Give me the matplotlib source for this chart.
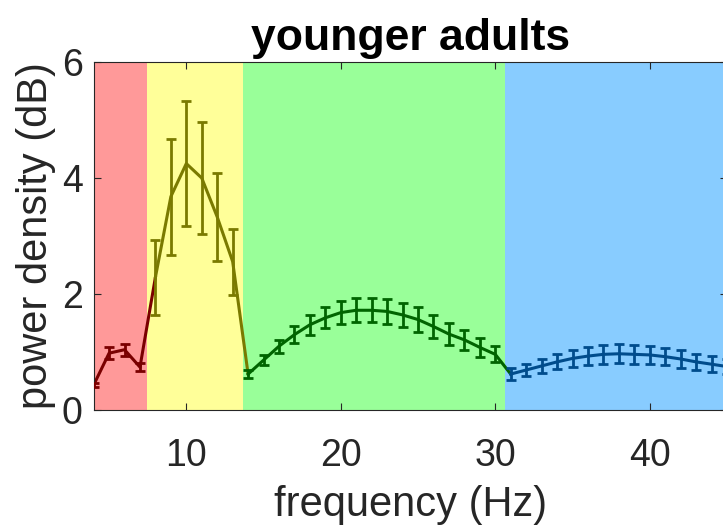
import numpy as np
import matplotlib
matplotlib.use('Agg')
import matplotlib.pyplot as plt

plt.rcParams['font.family'] = ['Liberation Sans', 'DejaVu Sans']

# -----------------------------------------------------------------------------
# values

band_names = ['delta', 'theta', 'beta', 'gamma']
band_edges = [4, 7.45, 13.65, 30.6, 45]
band_fill = ['#ff9999', '#ffff99', '#99ff99', '#88ccff']
band_line = ['#7a0000', '#7a7a00', '#006400', '#004c8c']

freq_delta = [4, 5, 6, 7]
pow_delta = [0.43, 0.98, 1.04, 0.74]
err_delta = [0.04, 0.10, 0.10, 0.07]

freq_theta = [8, 9, 10, 11, 12, 13]
pow_theta = [2.29, 3.68, 4.25, 4.00, 3.33, 2.56]
err_theta = [0.65, 1.00, 1.08, 0.97, 0.76, 0.57]

freq_beta = list(range(14, 31))
pow_beta = [0.62, 0.86, 1.10, 1.30, 1.47, 1.59, 1.68, 1.72, 1.72,
            1.70, 1.64, 1.56, 1.44, 1.31, 1.21, 1.08, 0.96]
err_beta = [0.07, 0.09, 0.11, 0.15, 0.17, 0.18, 0.20, 0.21, 0.21,
            0.21, 0.21, 0.21, 0.20, 0.19, 0.17, 0.17, 0.14]

freq_gamma = list(range(31, 46))
pow_gamma = [0.62, 0.69, 0.76, 0.83, 0.89, 0.93, 0.96, 0.97,
             0.96, 0.95, 0.92, 0.88, 0.83, 0.79, 0.75]
err_gamma = [0.10, 0.11, 0.12, 0.13, 0.14, 0.15, 0.16, 0.16,
             0.16, 0.16, 0.15, 0.15, 0.14, 0.14, 0.13]

freqs = [freq_delta, freq_theta, freq_beta, freq_gamma]
pows = [pow_delta, pow_theta, pow_beta, pow_gamma]
errs = [err_delta, err_theta, err_beta, err_gamma]

# -----------------------------------------------------------------------------

fig = plt.figure(figsize=(7.23, 5.32), dpi=100)
ax = fig.add_axes([0.1295, 0.2293, 0.876, 0.654])

for i in range(len(band_names)):
    ax.axvspan(band_edges[i], band_edges[i + 1], color=band_fill[i],
               lw=0, zorder=0)

for i in range(len(band_names)):
    f = list(freqs[i])
    p = list(pows[i])
    # connect to the first point of the next band
    if i + 1 < len(band_names):
        f_line = f + [freqs[i + 1][0]]
        p_line = p + [pows[i + 1][0]]
    else:
        f_line, p_line = f, p
    ax.plot(f_line, p_line, color=band_line[i], lw=2.2, zorder=2)
    ax.errorbar(f, p, yerr=errs[i], fmt='none', ecolor=band_line[i],
                elinewidth=2, capsize=3.5, capthick=2, zorder=3)

ax.set_xlim(4, 45)
ax.set_ylim(0, 6)
ax.set_xticks([10, 20, 30, 40])
ax.set_yticks([0, 2, 4, 6])
ax.tick_params(direction='in', length=5, width=0.8, colors='#262626',
               labelsize=27, top=True, right=True)
ax.tick_params(axis='x', pad=20)
ax.tick_params(axis='y', pad=8)
for s in ax.spines.values():
    s.set_color('#262626')
    s.set_linewidth(0.8)

ax.set_xlabel('frequency (Hz)', fontsize=30, color='#262626', labelpad=8)
ax.set_ylabel('power density (dB)', fontsize=30, color='#262626',
              labelpad=4)
ax.set_title('younger adults', fontsize=32, fontweight='bold', pad=9)

plt.savefig('out.png', dpi=100)
